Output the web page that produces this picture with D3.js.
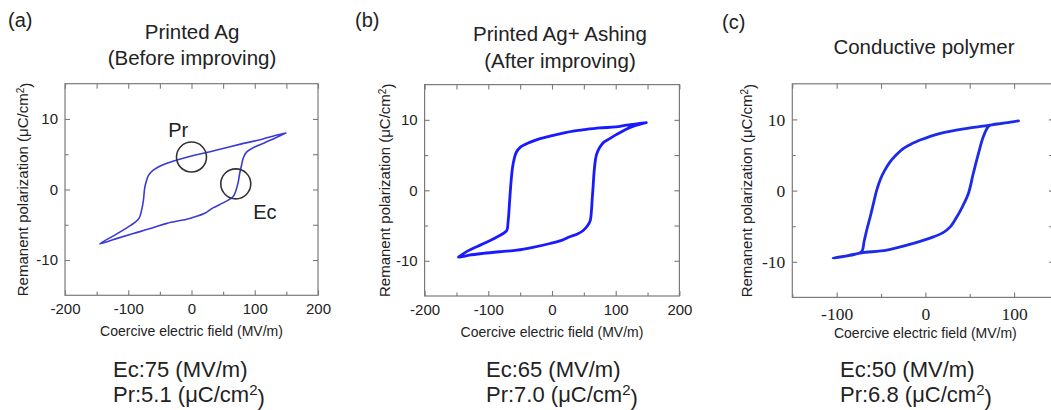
<!DOCTYPE html>
<html><head><meta charset="utf-8">
<script src="https://cdn.jsdelivr.net/npm/d3@7"></script>
<style>
body{margin:0;background:#fff;}
svg{display:block;}
text{font-family:"Liberation Sans",Arial,sans-serif;fill:#222;}
</style>
</head><body>
<svg id="chart" width="1051" height="410"></svg>
<script>
// ---------------- data ----------------
const panelLetters = ["(a)", "(b)", "(c)"];
const titleLine1 = ["Printed Ag", "Printed Ag+ Ashing", "Conductive polymer"];
const titleLine2 = ["(Before improving)", "(After improving)", ""];
const ecValues = ["75", "65", "50"];
const prValues = ["5.1", "7.0", "6.8"];
const xTicksAB = [-200, -100, 0, 100, 200];
const xMinorAB = [-150, -50, 50, 150];
const xTicksC = [-100, 0, 100];
const xMinorC = [-150, -50, 50];
const yTicks = [-10, 0, 10];
const yMinor = [-5, 5];

// Panel (a) loop: upper branch (descending field) then lower branch (ascending field)
const loopA_E = [149, 137, 110, 76, 40, 24, 0, -24, -45, -61, -68, -71, -74, -76, -79, -83, -90, -100, -120, -145,
                 -120, -92, -60, -39, -3, 20, 34, 50, 60, 66, 70, 73.5, 76, 79, 82, 87, 97, 115, 135, 149];
const loopA_P = [8.0, 7.75, 7.1, 6.4, 5.6, 5.25, 4.75, 4.15, 3.5, 2.7, 2.0, 1.3, 0.2, -1.5, -3.0, -4.1, -4.7, -5.3, -6.4, -7.7,
                 -7.0, -6.25, -5.4, -4.8, -4.1, -3.4, -2.6, -1.9, -1.4, -1.0, -0.2, 0.9, 2.2, 3.4, 4.5, 5.3, 5.9, 6.6, 7.4, 8.0];

// Panel (b) loop
const loopB_E = [148, 130, 117, 100, 75, 50, 33, 0, -20, -35, -50, -56, -59, -62, -64, -65, -66.5, -67.5, -69, -71, -78, -90, -108, -125, -134, -147,
                 -130, -108, -80, -55, -30, -3, 15, 28, 40, 49, 56, 60, 62, 63, 64.5, 66, 68, 70, 75, 81, 90, 101, 115, 128, 148];
const loopB_P = [9.6, 9.4, 9.25, 9.0, 8.85, 8.6, 8.4, 7.75, 7.3, 6.8, 6.1, 5.4, 4.6, 3.2, 1.5, 0.4, -1.5, -2.9, -4.5, -5.7, -6.2, -6.8, -7.6, -8.3, -8.7, -9.5,
                 -9.2, -8.95, -8.7, -8.5, -8.1, -7.55, -7.1, -6.6, -6.2, -5.7, -5.0, -4.3, -2.8, -1.4, 0.5, 2.5, 4.2, 5.1, 6.1, 6.8, 7.3, 7.9, 8.6, 9.1, 9.6];

// Panel (c) loop
const loopC_E = [105, 90, 73, 47, 17, -6, -15, -25, -33, -40, -46, -51, -55, -58.5, -62, -66, -69, -72, -85, -104,
                 -85, -72, -43.5, -13.5, 9, 20, 28, 35.4, 42, 48.5, 54, 59.8, 65.4, 71, 75, 90, 105];
const loopC_P = [9.8, 9.5, 9.2, 8.75, 8.05, 7.1, 6.6, 5.9, 5.0, 4.0, 2.8, 1.5, 0, -1.8, -3.6, -5.5, -7.1, -8.6, -9.05, -9.5,
                 -9.1, -8.75, -8.35, -7.4, -6.5, -5.9, -5.1, -3.7, -2.2, -0.4, 2.4, 5.2, 7.6, 9.0, 9.25, 9.5, 9.8];

// Annotations in panel (a)
const annotLabels = ["Pr", "Ec"];
const annotCircleE = [0, 70];
const annotCircleP = [4.6, 0.8];
const annotLabelE = [-21, 116];
const annotLabelP = [8.4, -3.1];

// ---------------- layout ----------------
const svg = d3.select("#chart");
const panels = [
  {x0: 65, x1: 318, y0: 295.3, y1: 83.7, xd: [-200, 200], ticks: xTicksAB, minor: xMinorAB, E: loopA_E, P: loopA_P,
   color: "#3a3ad6", lw: 1.6, serif: false, letterX: 8, letterY: 27, tx: 192, t1y: 39, t2y: 65, ylabX: 23,
   textX: 113},
  {x0: 424.6, x1: 679.4, y0: 296, y1: 84.6, xd: [-200, 200], ticks: xTicksAB, minor: xMinorAB, E: loopB_E, P: loopB_P,
   color: "#1a1aff", lw: 2.8, serif: false, letterX: 355, letterY: 27, tx: 560, t1y: 41, t2y: 68, ylabX: 385,
   textX: 486},
  {x0: 792.3, x1: 1054, y0: 297.4, y1: 83.8, xd: [-150, 145], ticks: xTicksC, minor: xMinorC, E: loopC_E, P: loopC_P,
   color: "#1d2be8", lw: 2.8, serif: true, letterX: 722, letterY: 29, tx: 924, t1y: 54, t2y: 0, ylabX: 747,
   textX: 840}
];

const gray = "#7a7a7a";
const fmt = d => String(d);

panels.forEach((p, i) => {
  const x = d3.scaleLinear().domain(p.xd).range([p.x0, p.x1]);
  const y = d3.scaleLinear().domain([-15, 15]).range([p.y0, p.y1]);
  const g = svg.append("g");
  const tickFont = p.serif ? "'Liberation Serif','Times New Roman',serif" : "'Liberation Sans',Arial,sans-serif";
  const tickSize = p.serif ? "17.5px" : "15px";

  // box
  g.append("rect").attr("x", p.x0).attr("y", p.y1).attr("width", p.x1 - p.x0).attr("height", p.y0 - p.y1)
    .attr("fill", "none").attr("stroke", gray).attr("stroke-width", 1.2);

  const styleAxis = sel => {
    sel.select(".domain").remove();
    sel.selectAll("line").attr("stroke", gray).attr("stroke-width", 1.1);
    sel.selectAll("text").style("font-family", tickFont).style("font-size", tickSize).attr("fill", "#222");
  };
  // bottom major with labels
  g.append("g").attr("transform", `translate(0,${p.y0})`)
    .call(d3.axisBottom(x).tickValues(p.ticks).tickSizeInner(-5).tickSizeOuter(0).tickPadding(p.serif ? 10 : 8).tickFormat(fmt))
    .call(styleAxis);
  g.append("g").attr("transform", `translate(0,${p.y0})`)
    .call(d3.axisBottom(x).tickValues(p.minor).tickSizeInner(-3.5).tickSizeOuter(0).tickFormat(""))
    .call(styleAxis);
  // top ticks
  g.append("g").attr("transform", `translate(0,${p.y1})`)
    .call(d3.axisTop(x).tickValues(p.ticks.concat(p.minor)).tickSizeInner(-5).tickSizeOuter(0).tickFormat(""))
    .call(styleAxis);
  // left
  g.append("g").attr("transform", `translate(${p.x0},0)`)
    .call(d3.axisLeft(y).tickValues(yTicks).tickSizeInner(-5).tickSizeOuter(0).tickPadding(7).tickFormat(fmt))
    .call(styleAxis);
  g.append("g").attr("transform", `translate(${p.x0},0)`)
    .call(d3.axisLeft(y).tickValues(yMinor).tickSizeInner(-3.5).tickSizeOuter(0).tickFormat(""))
    .call(styleAxis);
  // right
  g.append("g").attr("transform", `translate(${p.x1},0)`)
    .call(d3.axisRight(y).tickValues(yTicks.concat(yMinor)).tickSizeInner(-5).tickSizeOuter(0).tickFormat(""))
    .call(styleAxis);

  // loop
  const pts = p.E.map((e, k) => [e, p.P[k]]);
  const line = d3.line().x(d => x(d[0])).y(d => y(d[1])).curve(d3.curveCatmullRom.alpha(0.5));
  g.append("path").datum(pts).attr("d", line).attr("fill", "none")
    .attr("stroke", p.color).attr("stroke-width", p.lw).attr("stroke-linejoin", "round").attr("stroke-linecap", "round");

  // annotations panel (a)
  if (i === 0) {
    annotLabels.forEach((lab, k) => {
      g.append("circle").attr("cx", x(annotCircleE[k])).attr("cy", y(annotCircleP[k])).attr("r", 15)
        .attr("fill", "none").attr("stroke", "#333").attr("stroke-width", 1.6);
      g.append("text").attr("x", x(annotLabelE[k])).attr("y", y(annotLabelP[k])).attr("dy", "0.36em")
        .attr("text-anchor", "middle").style("font-size", "20px").text(lab);
    });
  }

  // axis labels
  const xlabCx = i === 2 ? x(0) : (p.x0 + p.x1) / 2;
  g.append("text").attr("x", xlabCx).attr("y", p.y0 + 41).attr("text-anchor", "middle")
    .style("font-size", "14px").text("Coercive electric field (MV/m)");
  const yl = g.append("text").attr("transform", `translate(${p.ylabX},${(p.y0 + p.y1) / 2}) rotate(-90)`)
    .attr("text-anchor", "middle").attr("dy", "0.35em").style("font-size", "15px");
  yl.append("tspan").text("Remanent polarization (\u03BCC/cm");
  yl.append("tspan").attr("dy", "-0.45em").style("font-size", "10px").text("2");
  yl.append("tspan").attr("dy", "0.45em").text(")");

  // letter
  svg.append("text").attr("x", p.letterX).attr("y", p.letterY).style("font-size", "20px").text(panelLetters[i]);
  // titles
  svg.append("text").attr("x", p.tx).attr("y", p.t1y).attr("text-anchor", "middle").style("font-size", "20.5px").text(titleLine1[i]);
  if (titleLine2[i]) {
    svg.append("text").attr("x", p.tx).attr("y", p.t2y).attr("text-anchor", "middle").style("font-size", "20.5px").text(titleLine2[i]);
  }
  // bottom values
  svg.append("text").attr("x", p.textX).attr("y", 377).style("font-size", "22px").text(`Ec:${ecValues[i]} (MV/m)`);
  const pr = svg.append("text").attr("x", p.textX).attr("y", 402).style("font-size", "22px");
  pr.append("tspan").text(`Pr:${prValues[i]} (\u03BCC/cm`);
  pr.append("tspan").attr("dy", "-0.45em").style("font-size", "15px").text("2");
  pr.append("tspan").attr("dy", "0.45em").text(")");
});
</script>
</body></html>
